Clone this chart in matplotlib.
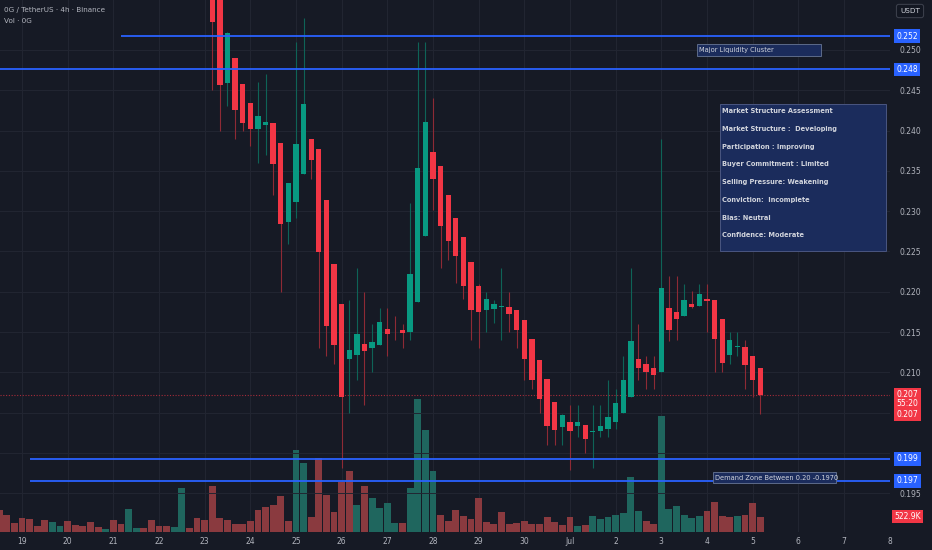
import numpy as np
import matplotlib.pyplot as plt
from matplotlib.patches import Rectangle

# 0G / USDT 4h candles, index 0 = 19th 00:00, first visible candle is index 25
first_candle = 25
opens = [0.2600, 0.2580, 0.2459, 0.2490, 0.2458, 0.2434, 0.2402, 0.2407, 0.2409, 0.2384,
         0.2287, 0.2311, 0.2346, 0.2390, 0.2377, 0.2314, 0.2235, 0.2185, 0.2117, 0.2122,
         0.2135, 0.2130, 0.2134, 0.2154, 0.2153, 0.2153, 0.2150, 0.2187, 0.2269, 0.2373,
         0.2356, 0.2320, 0.2292, 0.2268, 0.2237, 0.2207, 0.2177, 0.2179, 0.2181, 0.2181,
         0.2177, 0.2165, 0.2141, 0.2116, 0.2092, 0.2063, 0.2032, 0.2039, 0.2033, 0.2035,
         0.2026, 0.2027, 0.2030, 0.2038, 0.2050, 0.2070, 0.2117, 0.2111, 0.2106, 0.2101,
         0.2180, 0.2175, 0.2170, 0.2185, 0.2182, 0.2191, 0.2190, 0.2166, 0.2122, 0.2131,
         0.2132, 0.2120, 0.2106]
highs = [0.2620, 0.2600, 0.2522, 0.2490, 0.2458, 0.2434, 0.2460, 0.2470, 0.2409, 0.2384,
         0.2335, 0.2510, 0.2540, 0.2390, 0.2377, 0.2314, 0.2235, 0.2185, 0.2190, 0.2230,
         0.2200, 0.2160, 0.2180, 0.2180, 0.2170, 0.2160, 0.2310, 0.2510, 0.2510, 0.2440,
         0.2356, 0.2320, 0.2292, 0.2268, 0.2237, 0.2210, 0.2200, 0.2190, 0.2230, 0.2200,
         0.2177, 0.2165, 0.2141, 0.2116, 0.2092, 0.2063, 0.2049, 0.2059, 0.2059, 0.2035,
         0.2059, 0.2059, 0.2090, 0.2080, 0.2120, 0.2230, 0.2160, 0.2120, 0.2120, 0.2390,
         0.2220, 0.2220, 0.2210, 0.2201, 0.2210, 0.2210, 0.2190, 0.2166, 0.2150, 0.2150,
         0.2140, 0.2120, 0.2106]
lows = [0.2450, 0.2400, 0.2431, 0.2390, 0.2400, 0.2381, 0.2360, 0.2370, 0.2320, 0.2200,
        0.2259, 0.2291, 0.2346, 0.2340, 0.2130, 0.2120, 0.2110, 0.1981, 0.2050, 0.2090,
        0.2060, 0.2100, 0.2134, 0.2120, 0.2140, 0.2130, 0.2140, 0.2187, 0.2269, 0.2301,
        0.2230, 0.2240, 0.2211, 0.2191, 0.2140, 0.2130, 0.2150, 0.2161, 0.2140, 0.2150,
        0.2130, 0.2090, 0.2080, 0.2050, 0.2010, 0.2010, 0.2010, 0.1979, 0.2020, 0.2000,
        0.1981, 0.2020, 0.2020, 0.2030, 0.2050, 0.2070, 0.2090, 0.2080, 0.2080, 0.2101,
        0.2139, 0.2140, 0.2170, 0.2180, 0.2182, 0.2150, 0.2100, 0.2100, 0.2110, 0.2120,
        0.2080, 0.2070, 0.2049]
closes = [0.2535, 0.2457, 0.2521, 0.2425, 0.2410, 0.2402, 0.2418, 0.2411, 0.2359, 0.2284,
          0.2335, 0.2383, 0.2433, 0.2364, 0.2249, 0.2157, 0.2134, 0.2070, 0.2128, 0.2148,
          0.2127, 0.2138, 0.2163, 0.2148, 0.2152, 0.2149, 0.2222, 0.2353, 0.2411, 0.2340,
          0.2282, 0.2263, 0.2244, 0.2207, 0.2177, 0.2175, 0.2191, 0.2185, 0.2182, 0.2172,
          0.2152, 0.2117, 0.2091, 0.2067, 0.2034, 0.2029, 0.2047, 0.2027, 0.2038, 0.2017,
          0.2027, 0.2034, 0.2045, 0.2062, 0.2090, 0.2139, 0.2105, 0.2100, 0.2097, 0.2205,
          0.2153, 0.2166, 0.2190, 0.2181, 0.2197, 0.2189, 0.2142, 0.2112, 0.2140, 0.2133,
          0.2109, 0.2091, 0.2072]

# volume (thousands of 0G), starts 3 bars before the 19th
vol_start = -3
volume_k = [752, 591, 308, 489, 444, 195, 400, 352, 215, 376,
            239, 215, 352, 171, 103, 420, 263, 786, 147, 147,
            420, 215, 195, 171, 1514, 126, 468, 400, 1572, 468,
            400, 263, 284, 376, 742, 855, 913, 1220, 366, 2793,
            2345, 496, 2512, 1254, 684, 1709, 2085, 923, 1579, 1169,
            820, 974, 314, 291, 1494, 4536, 3486, 2075, 571, 386,
            752, 547, 434, 1172, 342, 273, 684, 273, 318, 386,
            273, 273, 502, 342, 229, 502, 205, 229, 547, 455,
            513, 564, 660, 1880, 708, 366, 273, 3965, 776, 889,
            591, 479, 547, 708, 1025, 547, 523, 547, 571, 1001,
            522.9]
vol_up = [0, 0, 0, 0, 0, 0, 0, 1, 1, 0,
          0, 0, 0, 0, 1, 0, 0, 1, 1, 0,
          0, 0, 0, 1, 1, 0, 0, 0, 0, 0,
          0, 0, 0, 0, 0, 0, 0, 0, 0, 1,
          1, 0, 0, 0, 0, 0, 0, 1, 0, 1,
          1, 1, 1, 0, 1, 1, 1, 1, 0, 0,
          0, 0, 0, 0, 0, 0, 0, 0, 0, 0,
          0, 0, 0, 0, 0, 0, 1, 0, 1, 1,
          1, 1, 1, 1, 1, 0, 0, 1, 1, 1,
          1, 1, 1, 0, 0, 0, 0, 1, 0, 0,
          0]

day_labels = ['19', '20', '21', '22', '23', '24', '25', '26', '27', '28',
              '29', '30', 'Jul', '2', '3', '4', '5', '6', '7', '8']

price_ticks = [0.195, 0.200, 0.205, 0.210, 0.215, 0.220, 0.225,
               0.230, 0.235, 0.240, 0.245, 0.250]
hidden_ticks = [0.200, 0.205]   # covered by the level / price labels

liquidity_levels = [0.2517, 0.2476]
demand_levels = [0.19926, 0.19656]

assessment = ['Market Structure Assessment',
              'Market Structure :  Developing',
              'Participation : Improving',
              'Buyer Commitment : Limited',
              'Selling Pressure: Weakening',
              'Conviction:  Incomplete',
              'Bias: Neutral',
              'Confidence: Moderate']

BG = '#161a25'
GRID = '#222632'
TXT = '#b2b5be'
UP, DOWN = '#089981', '#f23645'
UP_WICK, DOWN_WICK = '#0e6357', '#8e2a35'
VOL_UP, VOL_DOWN = '#1f665e', '#8a3a3f'
BLUE = '#2962ff'
NOTE_BG = '#1b2c5c'

fig = plt.figure(figsize=(9.32, 5.5), dpi=100, facecolor=BG)
ax_v = fig.add_axes([0, 18 / 550, 890 / 932, 532 / 550])
ax_v.set_facecolor(BG)
ax = ax_v.twinx()

# volume underneath
n_vol = np.arange(vol_start, vol_start + len(volume_k))
ax_v.bar(n_vol, volume_k, width=0.9,
         color=[VOL_UP if u else VOL_DOWN for u in vol_up])
ax_v.set_ylim(0, max(volume_k) * 4.0)
ax_v.set_yticks([])
ax_v.set_xticks(np.arange(0, 6 * len(day_labels), 6))
ax_v.set_xticklabels(day_labels)
ax_v.tick_params(axis='x', length=0, pad=3.5, labelsize=5.5, labelcolor=TXT)
ax_v.grid(axis='x', color=GRID, lw=0.7)
ax_v.set_axisbelow(True)

# candles
x = np.arange(first_candle, first_candle + len(opens))
o, h, l, c = (np.array(a) for a in (opens, highs, lows, closes))
up = c >= o
ax.vlines(x, l, h, colors=np.where(up, UP_WICK, DOWN_WICK), lw=0.8, zorder=3)
ax.bar(x, np.maximum(np.abs(c - o), 0.00012), bottom=np.minimum(o, c), width=0.7,
       color=np.where(up, UP, DOWN), zorder=4)

ax.set_xlim(-2.89, 114.05)
ax.set_ylim(0.1902, 0.2562)
ax.set_yticks(price_ticks)
ax.set_yticklabels(['' if t in hidden_ticks else f'{t:.3f}' for t in price_ticks])
ax.tick_params(axis='y', length=0, pad=7, labelsize=5.5, labelcolor=TXT)
ax.grid(axis='y', color=GRID, lw=0.7)
ax.set_axisbelow(True)
for a in (ax, ax_v):
    for s in a.spines.values():
        s.set_visible(False)

x0, xr = ax.get_xlim()
ytr = ax.get_yaxis_transform()

# horizontal levels
ax.hlines(liquidity_levels[0], 13, xr, color=BLUE, lw=1.3, zorder=5)
ax.hlines(liquidity_levels[1], x0, xr, color=BLUE, lw=1.3, zorder=5)
ax.hlines(demand_levels, 1, xr, color=BLUE, lw=1.3, zorder=5)
for lv in liquidity_levels + demand_levels:
    ax.text(1.0195, lv, f'{lv:.3f}', transform=ytr, ha='center', va='center',
            fontsize=5.5, color='white', clip_on=False, zorder=8,
            bbox=dict(boxstyle='square,pad=0.3', fc=BLUE, ec='none'))

# last price
last = c[-1]
ax.axhline(last, color='#a52c3a', lw=0.8, ls=(0, (1, 1.5)), zorder=2)
red_box = dict(boxstyle='square,pad=0.3', fc=DOWN, ec='none')
for txt, dy in [(f'{last:.3f}', 0), ('55:20', -6.5), (f'{last:.3f}', -14)]:
    ax.annotate(txt, (1.0195, last), xycoords=ytr, xytext=(0, dy),
                textcoords='offset points', ha='center', va='center',
                fontsize=5.5, color='white', annotation_clip=False, zorder=8,
                bbox=red_box)
ax_v.annotate(f'{volume_k[-1]:.1f}K', (1.0195, volume_k[-1]),
              xycoords=ax_v.get_yaxis_transform(), ha='center', va='center',
              fontsize=5.5, color='white', annotation_clip=False, zorder=8,
              bbox=red_box)

# notes
ax.add_patch(Rectangle((88.7, 0.2493), 16.3, 0.0014, fc=NOTE_BG, ec='#5d6b8a',
                       lw=0.7, zorder=6))
ax.text(89.0, 0.2500, 'Major Liquidity Cluster', fontsize=4.8, color='#d1d4dc',
        va='center', ha='left', zorder=7)

ax.add_patch(Rectangle((90.8, 0.19624), 16.2, 0.00136, fc=NOTE_BG, ec='#5d6b8a',
                       lw=0.7, zorder=6))
ax.text(91.1, 0.19692, 'Demand Zone Between 0.20 -0.1970', fontsize=4.8,
        color='#d1d4dc', va='center', ha='left', zorder=7)

ax.add_patch(Rectangle((91.7, 0.2251), 21.8, 0.0182, fc=NOTE_BG, ec='#4a5680',
                       lw=0.7, zorder=6))
for i, line in enumerate(assessment):
    ax.text(92.0, 0.2424 - i * 0.00220, line, fontsize=4.8, color='#d1d4dc',
            fontweight='bold', va='center', ha='left', zorder=7)

# header texts
fig.text(4 / 932, 1 - 10 / 550, '0G / TetherUS · 4h · Binance', fontsize=5.2,
         color=TXT, va='center')
fig.text(4 / 932, 1 - 21 / 550, 'Vol · 0G', fontsize=5.2, color=TXT, va='center')
fig.text(910 / 932, 1 - 11 / 550, 'USDT', fontsize=5.2, color='#d1d4dc',
         ha='center', va='center',
         bbox=dict(boxstyle='round,pad=0.5,rounding_size=0.3', fc='#131722',
                   ec='#3a3e4a', lw=0.8))

fig.savefig('out.png', dpi=100, facecolor=BG)
